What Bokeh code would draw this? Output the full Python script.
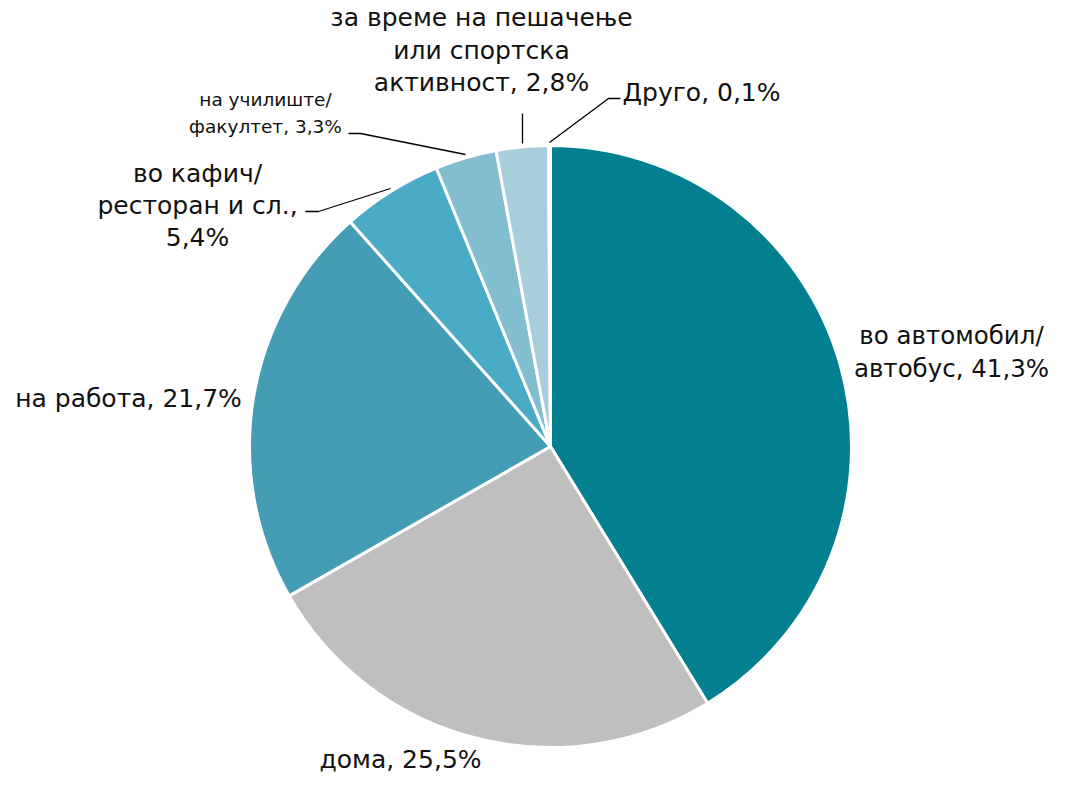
import math
from bokeh.plotting import figure
from bokeh.models import Range1d
from bokeh.core.properties import value
from bokeh.embed import file_html
from bokeh.resources import INLINE

categories = ["во автомобил/\nавтобус", "дома", "на работа", "во кафич/\nресторан и сл.",
              "на училиште/\nфакултет", "за време на пешачење\nили спортска\nактивност", "Друго"]
shares = [41.3, 25.5, 21.7, 5.4, 3.3, 2.8, 0.1]
label_texts = ["во автомобил/\nавтобус, 41,3%", "дома, 25,5%", "на работа, 21,7%",
               "во кафич/\nресторан и сл.,\n5,4%", "на училиште/\nфакултет, 3,3%",
               "за време на пешачење\nили спортска\nактивност, 2,8%", "Друго, 0,1%"]
colors = ["#02808F", "#BFBFBF", "#459DB5", "#4AABC6", "#82BDD0", "#A8CEDC", "#D3E7EE"]

W, H = 1051, 773
FONT = "DejaVu Sans"
DY = 5  # shift everything up a little so the bottom label fits

def py(y):  # reference page y -> data y
    return H - (y - DY)

p = figure(width=W, height=H, output_backend="svg", toolbar_location=None,
           x_axis_type=None, y_axis_type=None, min_border=0,
           x_range=Range1d(0, W), y_range=Range1d(0, H))
p.outline_line_color = None
p.grid.visible = False
p.background_fill_color = "white"

cx, cy, r = 550, py(451), 301
total = sum(shares)
cum = 0.0
starts, ends = [], []
for s in shares:
    a0 = math.pi / 2 - 2 * math.pi * cum / total
    cum += s
    a1 = math.pi / 2 - 2 * math.pi * cum / total
    starts.append(a0)
    ends.append(a1)

p.wedge(x=[cx] * len(shares), y=[cy] * len(shares), radius=r,
        start_angle=starts, end_angle=ends, direction="clock",
        fill_color=colors, line_color="white", line_width=3)

# leader lines (reference page coords)
leaders = [
    [(348, 138), (360, 138), (465, 159)],
    [(305, 216), (318, 216), (390, 193)],
    [(522, 118), (522, 148)],
    [(549, 147), (608, 103), (620, 103)],
]
for seg in leaders:
    p.line([a for a, b in seg], [py(b) for a, b in seg], line_color="black", line_width=1.3)

lab_pos = [
    (951, 340, "center", 24.5, 33),
    (400, 764, "center", 25, 33),
    (128, 403, "center", 25, 33),
    (197, 178, "center", 25, 32),
    (265, 104, "center", 18.5, 27),
    (481, 22, "center", 25, 32.5),
    (622, 97, "left", 25, 33),
]
for txt, (x, y0, al, sz, ls) in zip(label_texts, lab_pos):
    lines = txt.split("\n")
    xs = [x] * len(lines)
    ys = [py(y0 + i * ls) for i in range(len(lines))]
    p.text(x=xs, y=ys, text=lines, text_align=al, text_baseline="middle",
           text_font=value(FONT), text_font_size=f"{sz}px", text_color="#111111")

open("out.html", "w").write(file_html(p, INLINE))
